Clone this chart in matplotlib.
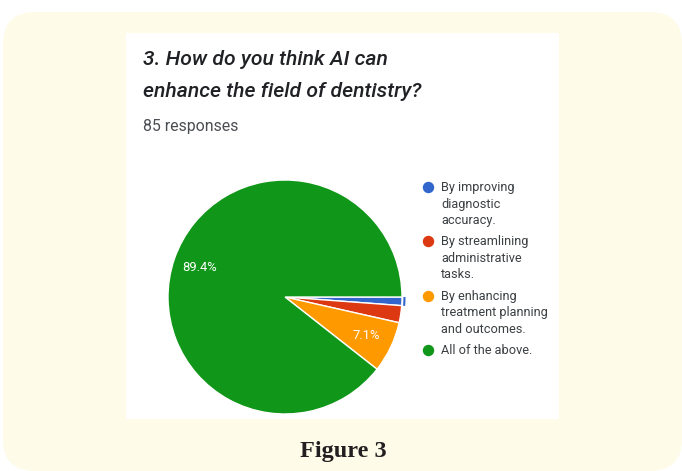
import matplotlib.pyplot as plt
from matplotlib.patches import FancyBboxPatch, Rectangle

# Survey answers (85 responses)
options = [
    "By improving\ndiagnostic\naccuracy.",
    "By streamlining\nadministrative\ntasks.",
    "By enhancing\ntreatment planning\nand outcomes.",
    "All of the above.",
]
counts = [1, 2, 6, 76]
colors = ["#3366CC", "#DC3912", "#FF9900", "#109618"]

title_lines = ["3. How do you think AI can", "enhance the field of dentistry?"]
subtitle = "85 responses"
caption = "Figure 3"

W, H = 682, 471
fig = plt.figure(figsize=(W / 100, H / 100), dpi=100)
fig.patch.set_facecolor("white")

# full-figure axes in pixel units for the panels and text
bg = fig.add_axes([0, 0, 1, 1])
bg.set_xlim(0, W)
bg.set_ylim(H, 0)
bg.axis("off")

card = FancyBboxPatch((3, 12), 679, 459, boxstyle="round,pad=0,rounding_size=32",
                      facecolor="#FEFBE9", edgecolor="none")
bg.add_patch(card)
bg.add_patch(Rectangle((126, 33), 433, 386, facecolor="white", edgecolor="none"))

bg.text(143, 65, title_lines[0], fontsize=15.2, fontstyle="italic", fontweight="medium",
        family="Roboto", color="#202124", va="baseline")
bg.text(143, 97, title_lines[1], fontsize=15.2, fontstyle="italic", fontweight="medium",
        family="Roboto", color="#202124", va="baseline")
bg.text(143, 131, subtitle, fontsize=11.4, family="Roboto", color="#4A4D51",
        va="baseline")
bg.text(343, 457, caption, fontsize=17.5, fontweight="bold",
        family="Liberation Serif", color="#231F20", ha="center", va="baseline")

# legend
y = 187
for label, c in zip(options, colors):
    bg.scatter([428], [y], s=52, color=c, zorder=3)
    for k, line in enumerate(label.split("\n")):
        bg.text(441, y + 4 + k * 16.6, line, fontsize=9.2, family="Roboto",
                color="#3C4043", va="baseline")
    y += 16.6 * len(label.split("\n")) + 4.5

# pie chart
cx, cy, r = 285, 297, 117
m = 1.1
pax = fig.add_axes([(cx - r * m) / W, (H - cy - r * m) / H, 2 * r * m / W, 2 * r * m / H])

pax.pie(
    counts, colors=colors, startangle=0, counterclock=False, radius=1,
    autopct=lambda p: f"{p:.1f}%" if p > 5 else "", pctdistance=0.77,
    wedgeprops=dict(edgecolor="white", linewidth=1),
    textprops=dict(color="white", fontsize=9.4, family="Roboto"))

# highlight ring around the first slice
ring_colors = [colors[0]] + ["none"] * (len(counts) - 1)
pax.pie(counts, colors=ring_colors, startangle=0, counterclock=False, radius=1.03,
        wedgeprops=dict(width=0.018, edgecolor="none"))
pax.set_xlim(-m, m)
pax.set_ylim(-m, m)
pax.axis("off")

fig.savefig("out.png", dpi=100)
